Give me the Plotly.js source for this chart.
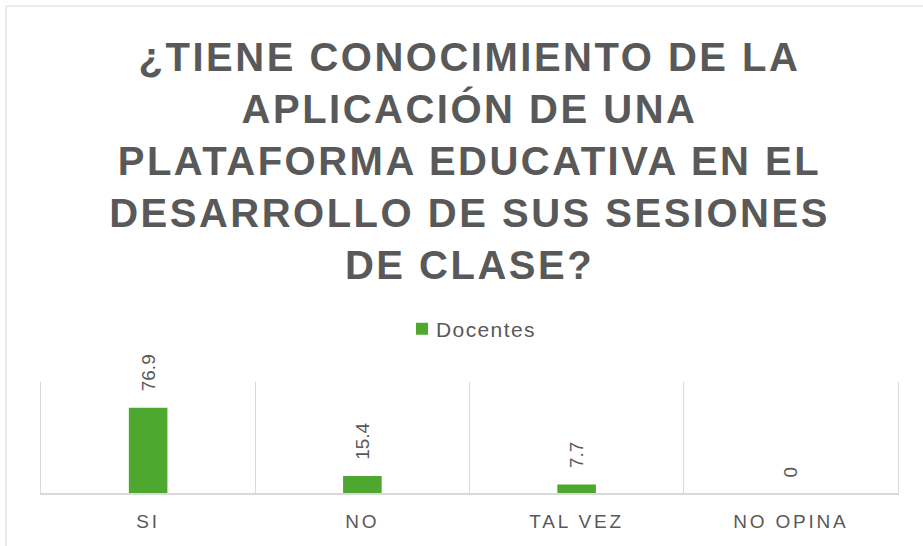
<!DOCTYPE html>
<html>
<head>
<meta charset="utf-8">
<script src="https://cdn.plot.ly/plotly-3.0.1.min.js"></script>
<style>
  html, body { margin: 0; padding: 0; background: #ffffff; }
  #chart { width: 923px; height: 546px; }
  .gtitle { letter-spacing: 2.5px; }
  .xtick text { letter-spacing: 2.8px; }
  .legendtext { letter-spacing: 1.4px; transform: translateX(-6px); }
</style>
</head>
<body>
<div id="chart"></div>
<script>
const categories = ["SI", "NO", "TAL VEZ", "NO OPINA"];
const docentes = [76.9, 15.4, 7.7, 0];
const seriesName = "Docentes";
const titleText = "¿TIENE CONOCIMIENTO DE LA<br>APLICACIÓN DE UNA<br>PLATAFORMA EDUCATIVA EN EL<br>DESARROLLO DE SUS SESIONES<br>DE CLASE?";

const gray = "#595959";
const green = "#4EA72E";
const font = "Liberation Sans, Arial, sans-serif";

const trace = {
  type: "bar",
  x: categories,
  y: docentes,
  name: seriesName,
  marker: { color: green },
  showlegend: true,
  hoverinfo: "x+y"
};

const labels = categories.map((c, i) => ({
  x: c,
  y: docentes[i],
  xref: "x",
  yref: "y",
  text: String(docentes[i]),
  showarrow: false,
  textangle: -90,
  xanchor: "center",
  yanchor: "bottom",
  yshift: 14,
  font: { family: font, size: 19, color: gray }
}));

const layout = {
  width: 923,
  height: 546,
  margin: { l: 41, r: 25, t: 382, b: 53, pad: 0 },
  paper_bgcolor: "#ffffff",
  plot_bgcolor: "#ffffff",
  bargap: 0.82,
  title: {
    text: titleText,
    font: { family: font, size: 40, color: gray, weight: "bold" },
    x: 0.5,
    xref: "paper",
    xanchor: "center",
    y: 1 - 71 / 546,
    yref: "container",
    yanchor: "top"
  },
  legend: {
    orientation: "h",
    x: 0.5 + 5 / 857,
    xanchor: "center",
    y: 1.477,
    yanchor: "middle",
    font: { family: font, size: 21, color: gray },
    itemwidth: 30
  },
  xaxis: {
    type: "category",
    tickson: "boundaries",
    showgrid: true,
    gridcolor: "#d9d9d9",
    gridwidth: 1.3,
    showline: true,
    linecolor: "#d9d9d9",
    linewidth: 1.5,
    ticks: "",
    tickfont: { family: font, size: 19, color: gray },
    ticklabelstandoff: 11,
    fixedrange: true
  },
  yaxis: {
    range: [0, 100],
    visible: true,
    showticklabels: false,
    showgrid: false,
    zeroline: false,
    showline: true,
    mirror: true,
    linecolor: "#d9d9d9",
    linewidth: 1.3,
    ticks: "",
    fixedrange: true
  },
  annotations: labels,
  shapes: [{
    type: "rect",
    xref: "paper",
    yref: "paper",
    x0: (6 - 41) / 857,
    x1: (940 - 41) / 857,
    y0: (493 - 560) / 111,
    y1: (493 - 6) / 111,
    line: { color: "#d9d9d9", width: 1 },
    fillcolor: "rgba(0,0,0,0)",
    layer: "below"
  }],
  showlegend: true
};

Plotly.newPlot("chart", [trace], layout, { displayModeBar: false, staticPlot: true });
</script>
</body>
</html>
